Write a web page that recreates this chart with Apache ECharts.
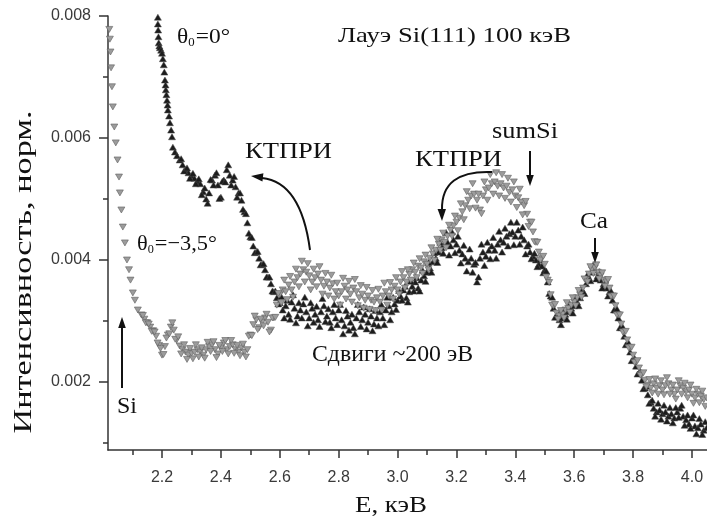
<!DOCTYPE html>
<html><head><meta charset="utf-8">
<script src="https://cdn.jsdelivr.net/npm/echarts@6/dist/echarts.min.js"></script>
<style>html,body{margin:0;padding:0;background:#fff}#c{width:707px;height:522px}</style>
</head><body><div id="c"></div>
<script>
// ---------- tick values ----------
const xMajorTicks = [2.2, 2.4, 2.6, 2.8, 3.0, 3.2, 3.4, 3.6, 3.8, 4.0];
const xMinorTicks = [2.1, 2.3, 2.5, 2.7, 2.9, 3.1, 3.3, 3.5, 3.7, 3.9];
const yMajorTicks = [0.002, 0.004, 0.006, 0.008];
const yMinorTicks = [0.001, 0.003, 0.005, 0.007];

// ---------- series θ0 = -3.5° (grey, down triangles) ----------
const grayHeadE = [2.021, 2.023, 2.025, 2.027, 2.030, 2.033, 2.038, 2.043, 2.049, 2.054, 2.057, 2.062, 2.067, 2.074, 2.081, 2.088, 2.093, 2.101, 2.108, 2.118];
const grayHeadI = [0.00778, 0.00762, 0.00741, 0.00715, 0.00684, 0.00651, 0.00618, 0.00592, 0.00564, 0.00536, 0.00510, 0.00482, 0.00454, 0.00428, 0.00400, 0.00384, 0.00367, 0.00346, 0.00334, 0.00318];
const grayStartE = 2.13;   // every 0.01 keV
const grayI = [
 0.00310,0.00303,0.00297,0.00290,0.00284,0.00275,0.00260,0.00244,0.00258,0.00277,
 0.00290,0.00285,0.00269,0.00259,0.00253,0.00249,0.00244,0.00247,0.00249,0.00253,
 0.00249,0.00244,0.00253,0.00258,0.00261,0.00253,0.00246,0.00256,0.00264,0.00253,
 0.00258,0.00261,0.00253,0.00249,0.00256,0.00249,0.00253,0.00277,0.00294,0.00302,
 0.00289,0.00298,0.00305,0.00298,0.00285,0.00305,0.00326,0.00343,0.00351,0.00348,
 0.00359,0.00351,0.00364,0.00371,0.00377,0.00384,0.00380,0.00374,0.00364,0.00371,
 0.00377,0.00367,0.00357,0.00364,0.00354,0.00361,0.00348,0.00341,0.00348,0.00357,
 0.00351,0.00344,0.00354,0.00348,0.00338,0.00344,0.00334,0.00341,0.00334,0.00331,
 0.00338,0.00331,0.00341,0.00348,0.00341,0.00351,0.00357,0.00351,0.00364,0.00371,
 0.00364,0.00377,0.00384,0.00380,0.00390,0.00387,0.00397,0.00393,0.00403,0.00410,
 0.00416,0.00426,0.00433,0.00429,0.00439,0.00449,0.00456,0.00462,0.00469,0.00479,
 0.00489,0.00498,0.00505,0.00508,0.00498,0.00482,0.00505,0.00515,0.00518,0.00525,
 0.00528,0.00521,0.00525,0.00518,0.00521,0.00511,0.00515,0.00505,0.00502,0.00495,
 0.00489,0.00475,0.00462,0.00446,0.00429,0.00413,0.00403,0.00393,0.00367,0.00343,
 0.00325,0.00313,0.00308,0.00311,0.00318,0.00321,0.00326,0.00331,0.00338,0.00343,
 0.00354,0.00367,0.00377,0.00384,0.00387,0.00380,0.00374,0.00367,0.00364,0.00354,
 0.00341,0.00325,0.00310,0.00295,0.00282,0.00269,0.00256,0.00244,0.00233,0.00223,
 0.00213,0.00203,0.00195,0.00190,0.00197,0.00190,0.00194,0.00187,0.00194,0.00197,
 0.00187,0.00180,0.00187,0.00194,0.00190,0.00184,0.00187,0.00180,0.00174,0.00180,
 0.00177,0.00171,0.00174
];
const grayStartE2 = 2.135; // in-between readings, every 0.01 keV (other edge of the cloud)
const grayI2 = [
 0.00309,0.00297,0.00295,0.00283,0.00282,0.00264,0.00255,0.00245,0.00272,0.00279,
 0.00297,0.00270,0.00274,0.00246,0.00261,0.00237,0.00255,0.00238,0.00261,0.00241,
 0.00256,0.00239,0.00265,0.00250,0.00266,0.00240,0.00260,0.00250,0.00268,0.00246,
 0.00268,0.00247,0.00260,0.00243,0.00262,0.00241,0.00275,0.00276,0.00308,0.00286,
 0.00303,0.00292,0.00311,0.00282,0.00305,0.00306,0.00345,0.00330,0.00367,0.00335,
 0.00373,0.00339,0.00385,0.00356,0.00398,0.00364,0.00394,0.00351,0.00385,0.00356,
 0.00389,0.00344,0.00378,0.00341,0.00375,0.00336,0.00362,0.00326,0.00370,0.00336,
 0.00365,0.00331,0.00368,0.00325,0.00358,0.00321,0.00355,0.00319,0.00350,0.00317,
 0.00352,0.00318,0.00362,0.00326,0.00363,0.00336,0.00371,0.00344,0.00381,0.00354,
 0.00384,0.00367,0.00395,0.00371,0.00402,0.00378,0.00408,0.00384,0.00420,0.00399,
 0.00434,0.00416,0.00444,0.00420,0.00457,0.00439,0.00472,0.00448,0.00492,0.00466,
 0.00512,0.00484,0.00525,0.00485,0.00508,0.00476,0.00528,0.00498,0.00540,0.00508,
 0.00543,0.00505,0.00540,0.00501,0.00534,0.00495,0.00528,0.00486,0.00516,0.00474,
 0.00496,0.00455,0.00462,0.00430,0.00429,0.00400,0.00406,0.00372,0.00363,0.00326,
 0.00327,0.00303,0.00317,0.00305,0.00330,0.00314,0.00338,0.00325,0.00350,0.00339,
 0.00369,0.00364,0.00389,0.00378,0.00392,0.00369,0.00379,0.00357,0.00368,0.00340,
 0.00341,0.00310,0.00310,0.00282,0.00283,0.00256,0.00257,0.00232,0.00235,0.00211,
 0.00215,0.00192,0.00204,0.00182,0.00205,0.00180,0.00202,0.00179,0.00207,0.00180,
 0.00195,0.00172,0.00202,0.00180,0.00198,0.00174,0.00195,0.00165,0.00188,0.00166,
 0.00185,0.00160
];

// ---------- series θ0 = 0° (black, up triangles) ----------
const blackHeadE = [2.186, 2.186, 2.187, 2.188, 2.189, 2.191, 2.193, 2.197, 2.200, 2.203, 2.206, 2.208, 2.210, 2.212, 2.213, 2.215, 2.217, 2.219, 2.220, 2.224, 2.227, 2.231, 2.234, 2.237, 2.244, 2.251];
const blackHeadI = [0.00798, 0.00787, 0.00777, 0.00766, 0.00756, 0.00751, 0.00748, 0.00744, 0.00739, 0.00730, 0.00720, 0.00708, 0.00695, 0.00687, 0.00679, 0.00671, 0.00662, 0.00654, 0.00646, 0.00636, 0.00625, 0.00613, 0.00602, 0.00585, 0.00577, 0.00571];
const blackStartE = 2.26;  // every 0.01 keV
const blackI = [
 0.00564,0.00556,0.00548,0.00543,0.00538,0.00534,0.00529,0.00525,0.00512,0.00500,
 0.00510,0.00531,0.00539,0.00523,0.00503,0.00531,0.00548,0.00539,0.00531,0.00520,
 0.00510,0.00498,0.00479,0.00461,0.00438,0.00423,0.00413,0.00403,0.00393,0.00384,
 0.00372,0.00361,0.00348,0.00338,0.00330,0.00318,0.00325,0.00311,0.00331,0.00321,
 0.00308,0.00318,0.00328,0.00315,0.00305,0.00321,0.00311,0.00302,0.00315,0.00325,
 0.00308,0.00298,0.00315,0.00305,0.00318,0.00302,0.00292,0.00308,0.00298,0.00289,
 0.00305,0.00315,0.00302,0.00311,0.00298,0.00308,0.00295,0.00305,0.00315,0.00305,
 0.00318,0.00325,0.00315,0.00328,0.00334,0.00341,0.00351,0.00338,0.00348,0.00357,
 0.00364,0.00354,0.00367,0.00374,0.00380,0.00387,0.00397,0.00403,0.00413,0.00420,
 0.00426,0.00429,0.00423,0.00433,0.00426,0.00416,0.00410,0.00403,0.00397,0.00403,
 0.00393,0.00364,0.00403,0.00413,0.00406,0.00416,0.00423,0.00416,0.00426,0.00433,
 0.00429,0.00439,0.00443,0.00446,0.00439,0.00449,0.00439,0.00433,0.00423,0.00413,
 0.00406,0.00400,0.00393,0.00390,0.00384,0.00364,0.00341,0.00321,0.00308,0.00302,
 0.00305,0.00311,0.00315,0.00321,0.00325,0.00331,0.00338,0.00348,0.00361,0.00371,
 0.00380,0.00384,0.00374,0.00367,0.00361,0.00354,0.00348,0.00334,0.00318,0.00305,
 0.00289,0.00275,0.00262,0.00249,0.00236,0.00226,0.00215,0.00203,0.00190,0.00179,
 0.00167,0.00157,0.00151,0.00154,0.00148,0.00151,0.00144,0.00148,0.00141,0.00151,
 0.00157,0.00144,0.00138,0.00131,0.00141,0.00128,0.00125,0.00131,0.00121,0.00125
];
const blackStartE2 = 2.265; // in-between readings, every 0.01 keV (other edge of the cloud)
const blackI2 = [
 0.00566,0.00546,0.00551,0.00534,0.00542,0.00525,0.00533,0.00507,0.00518,0.00493,
 0.00532,0.00523,0.00543,0.00501,0.00529,0.00528,0.00556,0.00523,0.00537,0.00503,
 0.00510,0.00483,0.00476,0.00444,0.00437,0.00412,0.00414,0.00392,0.00394,0.00372,
 0.00372,0.00349,0.00349,0.00328,0.00340,0.00305,0.00334,0.00303,0.00343,0.00297,
 0.00330,0.00305,0.00339,0.00292,0.00330,0.00298,0.00324,0.00291,0.00337,0.00299,
 0.00320,0.00289,0.00327,0.00294,0.00327,0.00279,0.00317,0.00285,0.00311,0.00279,
 0.00327,0.00291,0.00323,0.00287,0.00320,0.00284,0.00317,0.00292,0.00327,0.00294,
 0.00339,0.00302,0.00339,0.00319,0.00350,0.00334,0.00357,0.00331,0.00365,0.00349,
 0.00371,0.00349,0.00383,0.00365,0.00396,0.00380,0.00412,0.00396,0.00429,0.00411,
 0.00445,0.00408,0.00446,0.00412,0.00439,0.00395,0.00424,0.00382,0.00418,0.00380,
 0.00396,0.00372,0.00426,0.00391,0.00429,0.00402,0.00437,0.00403,0.00447,0.00413,
 0.00452,0.00423,0.00462,0.00425,0.00462,0.00426,0.00454,0.00410,0.00426,0.00402,
 0.00411,0.00389,0.00400,0.00379,0.00382,0.00345,0.00339,0.00306,0.00313,0.00294,
 0.00318,0.00303,0.00328,0.00313,0.00338,0.00325,0.00353,0.00345,0.00376,0.00366,
 0.00392,0.00369,0.00381,0.00354,0.00368,0.00341,0.00349,0.00318,0.00320,0.00289,
 0.00290,0.00261,0.00264,0.00235,0.00239,0.00213,0.00217,0.00189,0.00193,0.00165,
 0.00170,0.00144,0.00165,0.00139,0.00162,0.00136,0.00158,0.00133,0.00158,0.00142,
 0.00162,0.00129,0.00146,0.00124,0.00146,0.00115,0.00140,0.00114,0.00135
];

// ---------- build point lists ----------
function build(headE, headI, runs) {
  const out = headE.map((e, i) => [e, headI[i]]);
  runs.forEach(([startE, vals]) => vals.forEach((v, i) => out.push([+(startE + i * 0.01).toFixed(3), v])));
  return out;
}
const grayData = build(grayHeadE, grayHeadI, [[grayStartE, grayI], [grayStartE2, grayI2]]);
const blackData = build(blackHeadE, blackHeadI, [[blackStartE, blackI], [blackStartE2, blackI2]]);

// ---------- text helpers ----------
const SERIF = '"Liberation Serif"';
const cv = document.createElement('canvas').getContext('2d');
function tw(t, size) { cv.font = size + 'px ' + SERIF; return cv.measureText(t).width; }
function fitText(t, left, cy, size, width) {
  return { type: 'text', x: left, y: cy, scaleX: width / tw(t, size), z: 100,
    style: { text: t, x: 0, y: 0, fontSize: size, fontFamily: 'Liberation Serif', fill: '#111',
      textAlign: 'left', textVerticalAlign: 'middle', align: 'left', verticalAlign: 'middle' } };
}
function thetaLabel(rest, left, cy, width) {
  const runs = [{ t: 'θ', s: 22, dy: 0 }, { t: '0', s: 12, dy: 6 }, { t: rest, s: 22, dy: 0 }];
  let x = 0; const children = [];
  runs.forEach(r => {
    children.push({ type: 'text', x: x, y: r.dy,
      style: { text: r.t, x: 0, y: 0, fontSize: r.s, fontFamily: 'Liberation Serif', fill: '#111',
        textAlign: 'left', textVerticalAlign: 'middle', align: 'left', verticalAlign: 'middle' } });
    x += tw(r.t, r.s) + (r.t === '0' ? 1 : 0);
  });
  return { type: 'group', x: left, y: cy, scaleX: width / x, z: 100, children };
}
function head(tx, ty, dx, dy, len, hw) {
  const n = Math.hypot(dx, dy); dx /= n; dy /= n;
  const bx = tx - dx * len, by = ty - dy * len;
  return { type: 'polygon', z: 100, shape: { points: [[tx, ty], [bx - dy * hw, by + dx * hw], [bx + dy * hw, by - dx * hw]] },
    style: { fill: '#111' } };
}
function vArrow(x, y0, tipY) {
  const dir = tipY > y0 ? 1 : -1;
  return [
    { type: 'line', z: 100, shape: { x1: x, y1: y0, x2: x, y2: tipY - dir * 9 }, style: { stroke: '#111', lineWidth: 2 } },
    head(x, tipY, 0, dir, 11, 3.8)
  ];
}
function curveArrow(p0, cp, p2, tip) {
  return [
    { type: 'bezierCurve', z: 100, shape: { x1: p0[0], y1: p0[1], cpx1: cp[0], cpy1: cp[1], x2: p2[0], y2: p2[1] },
      style: { stroke: '#111', lineWidth: 2, fill: 'none' } },
    head(tip[0], tip[1], tip[0] - cp[0], tip[1] - cp[1], 12, 4.2)
  ];
}

const yName = 'Интенсивность, норм.';
const graphics = [
  fitText('Лауэ Si(111) 100 кэВ', 338, 36, 21, 233),
  thetaLabel('=0°', 177, 37, 53),
  thetaLabel('=−3,5°', 137, 244, 80),
  fitText('КТПРИ', 245, 152, 23, 87),
  fitText('КТПРИ', 415, 160, 23, 87),
  fitText('sumSi', 492, 132, 23, 66),
  fitText('Ca', 580, 222, 23, 28),
  fitText('Si', 117, 407, 23, 20),
  fitText('Сдвиги ~200 эВ', 312, 355, 23, 161),
  fitText('E, кэВ', 355, 506, 24, 72),
  { type: 'text', x: 24, y: 272, rotation: Math.PI / 2, scaleX: 323 / tw(yName, 26), z: 100,
    style: { text: yName, x: 0, y: 0, fontSize: 26, fontFamily: 'Liberation Serif', fill: '#111',
      textAlign: 'center', textVerticalAlign: 'middle', align: 'center', verticalAlign: 'middle' } },
  ...vArrow(122, 388, 317),
  ...vArrow(530, 151, 186),
  ...vArrow(595, 238, 263),
  ...curveArrow([310, 250], [301, 182], [262, 178], [251, 176]),
  ...curveArrow([492, 172], [441, 170], [442, 210], [442, 221])
];

const axisCol = '#333';
const xMin = 2.0166, xMax = 4.051, yMin = 0.000885, yMax = 0.008;
const labelStyle = { fontFamily: 'Liberation Sans', fontSize: 16, color: '#3a3a3a' };

const chart = echarts.init(document.getElementById('c'), null, { renderer: 'canvas' });
chart.setOption({
  animation: false,
  backgroundColor: '#fff',
  grid: { left: 108, right: 0, top: 16, bottom: 72, containLabel: false, outerBoundsMode: 'none' },
  xAxis: [
    { type: 'value', min: xMin, max: xMax, position: 'bottom',
      axisLine: { show: true, onZero: false, lineStyle: { color: axisCol, width: 1.5 } },
      axisTick: { show: true, inside: false, length: 8, customValues: xMajorTicks, lineStyle: { color: axisCol, width: 1.5 } },
      axisLabel: Object.assign({ customValues: xMajorTicks, margin: 20, formatter: v => (+v).toFixed(1) }, labelStyle),
      splitLine: { show: false } },
    { type: 'value', min: xMin, max: xMax, position: 'bottom',
      axisLine: { show: false, onZero: false },
      axisTick: { show: true, inside: false, length: 5, customValues: xMinorTicks, lineStyle: { color: axisCol, width: 1.5 } },
      axisLabel: { show: false, customValues: xMinorTicks },
      splitLine: { show: false } }
  ],
  yAxis: [
    { type: 'value', min: yMin, max: yMax, position: 'left',
      axisLine: { show: true, onZero: false, lineStyle: { color: axisCol, width: 1.5 } },
      axisTick: { show: true, inside: false, length: 9, customValues: yMajorTicks, lineStyle: { color: axisCol, width: 1.5 } },
      axisLabel: Object.assign({ customValues: yMajorTicks, margin: 17, formatter: v => (+v).toFixed(3) }, labelStyle),
      splitLine: { show: false } },
    { type: 'value', min: yMin, max: yMax, position: 'left',
      axisLine: { show: false, onZero: false },
      axisTick: { show: true, inside: false, length: 5, customValues: yMinorTicks, lineStyle: { color: axisCol, width: 1.5 } },
      axisLabel: { show: false, customValues: yMinorTicks },
      splitLine: { show: false } }
  ],
  series: [
    { name: 'θ0=0°', type: 'scatter', xAxisIndex: 0, yAxisIndex: 0, data: blackData,
      symbol: 'triangle', symbolSize: [7, 6], clip: true,
      itemStyle: { color: '#1c1c1c', borderColor: '#4a4a4a', borderWidth: 0.5, opacity: 1 } },
    { name: 'θ0=-3.5°', type: 'scatter', xAxisIndex: 0, yAxisIndex: 0, data: grayData,
      symbol: 'triangle', symbolRotate: 180, symbolSize: [7, 6], clip: true,
      itemStyle: { color: '#9c9c9c', borderColor: '#606060', borderWidth: 0.6, opacity: 1 } }
  ],
  graphic: graphics
});
</script></body></html>
